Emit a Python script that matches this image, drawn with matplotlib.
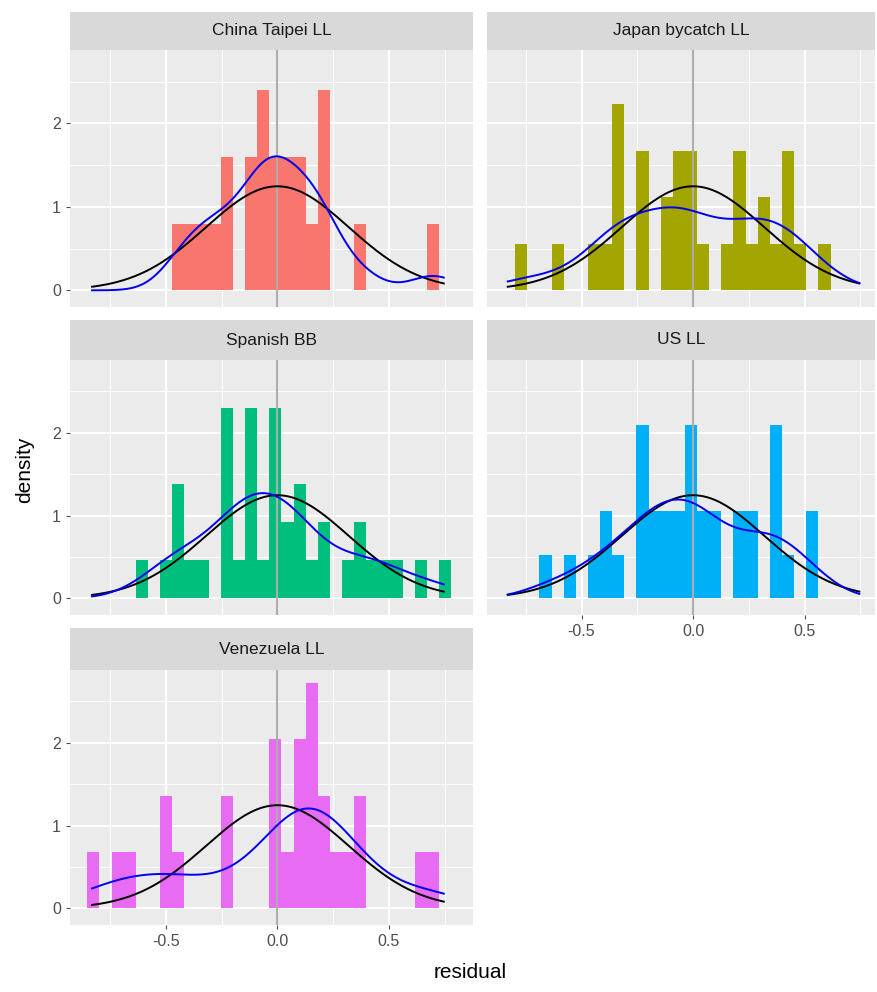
import numpy as np
import matplotlib
matplotlib.use("Agg")
import matplotlib.pyplot as plt

plt.rcParams['font.family'] = ['Liberation Sans', 'DejaVu Sans']

W, H = 878, 992
fleets = ["China Taipei LL", "Japan bycatch LL", "Spanish BB", "US LL", "Venezuela LL"]
colors = ["#F8766D", "#A3A500", "#00BF7D", "#00B0F6", "#E76BF3"]
bin_width = 0.0544
first_center = -0.825
n_bins = 30
# counts per bin (bins 0..29)
counts = {
    "China Taipei LL": [0,0,0,0,0,0,0,2,2,2,2,4,0,4,6,4,4,4,2,6,0,0,2,0,0,0,0,0,2,0],
    "Japan bycatch LL": [0,1,0,0,1,0,0,1,1,4,0,3,0,2,3,3,1,0,1,3,1,2,1,3,1,0,1,0,0,0],
    "Spanish BB":      [0,0,0,0,1,0,1,3,1,1,0,5,1,5,1,5,2,3,1,2,0,1,2,1,1,1,0,1,0,1],
    "US LL":           [0,0,0,1,0,1,0,1,2,1,0,4,2,2,2,4,2,2,0,2,2,0,4,1,0,2,0,0,0,0],
    "Venezuela LL":    [1,0,1,1,0,0,2,1,0,0,0,2,0,0,0,3,1,3,4,2,1,1,2,0,0,0,0,1,1,0],
}
curve_min, curve_max = -0.831, 0.746
normal_sd = 0.32
xlims = [(-0.93, 0.877), (-0.924, 0.816)]
ylim = (-0.2, 2.88)

fig = plt.figure(figsize=(W/100, H/100), dpi=100)

def px_axes(l, t, r, b):
    return fig.add_axes([l/W, 1-b/H, (r-l)/W, (b-t)/H])

cols = [(70, 473), (487, 875)]
rows = [(12, 50, 307), (320, 360, 615), (628, 670, 925)]
centers = first_center + bin_width*np.arange(n_bins)
xs = np.linspace(curve_min, curve_max, 300)

for i, name in enumerate(fleets):
    r, c = divmod(i, 2)
    l, rr = cols[c]
    st, pt, pb = rows[r]
    sax = px_axes(l, st, rr, pt)
    sax.set_facecolor("#D9D9D9")
    sax.set_xticks([]); sax.set_yticks([])
    for s in sax.spines.values(): s.set_visible(False)
    sax.text(0.5, 0.5, name, ha='center', va='center', fontsize=12.5, color='#1A1A1A', transform=sax.transAxes)

    ax = px_axes(l, pt, rr, pb)
    ax.set_facecolor("#EBEBEB")
    for s in ax.spines.values(): s.set_visible(False)
    ax.set_xlim(*xlims[c]); ax.set_ylim(*ylim)
    for v in [-0.75, -0.25, 0.25, 0.75]:
        ax.axvline(v, color='white', lw=0.7, zorder=0)
    for v in [0.5, 1.5, 2.5]:
        ax.axhline(v, color='white', lw=0.7, zorder=0)
    for v in [-0.5, 0, 0.5]:
        ax.axvline(v, color='white', lw=1.4, zorder=0)
    for v in [0, 1, 2]:
        ax.axhline(v, color='white', lw=1.4, zorder=0)
    cnt = np.array(counts[name], float)
    n = cnt.sum()
    dens = cnt/(n*bin_width)
    ax.bar(centers, dens, width=bin_width, color=colors[i], zorder=2, linewidth=0)
    ax.axvline(0, color='#ADADAD', lw=1.5, zorder=3)
    # kernel density estimate from binned values
    sd = np.sqrt(np.sum(cnt*(centers-np.sum(cnt*centers)/n)**2)/(n-1))
    bw = 0.85*sd*n**(-0.2)
    kde = np.sum(cnt[:, None]*np.exp(-0.5*((xs[None, :]-centers[:, None])/bw)**2), axis=0)/(n*bw*np.sqrt(2*np.pi))
    normal = np.exp(-0.5*(xs/normal_sd)**2)/(normal_sd*np.sqrt(2*np.pi))
    ax.plot(xs, normal, color='black', lw=1.4, zorder=4)
    ax.plot(xs, kde, color='#0000EE', lw=1.4, zorder=5)
    ax.tick_params(colors='#4D4D4D', labelsize=11.5, length=3, width=0.8)
    ax.set_xticks([-0.5, 0, 0.5])
    ax.set_yticks([0, 1, 2])
    if c == 0:
        ax.set_yticklabels(["0", "1", "2"])
    else:
        ax.tick_params(axis='y', length=0)
        ax.set_yticklabels([])
    if i in (3, 4):
        ax.set_xticklabels(["-0.5", "0.0", "0.5"])
    else:
        ax.tick_params(axis='x', length=0)
        ax.set_xticklabels([])

fig.text(470/W, 1-972/H, "residual", ha='center', va='center', fontsize=15, color='black')
fig.text(25/W, 1-470/H, "density", ha='center', va='center', rotation=90, fontsize=15, color='black')
fig.savefig("out.png", dpi=100, facecolor='white')
